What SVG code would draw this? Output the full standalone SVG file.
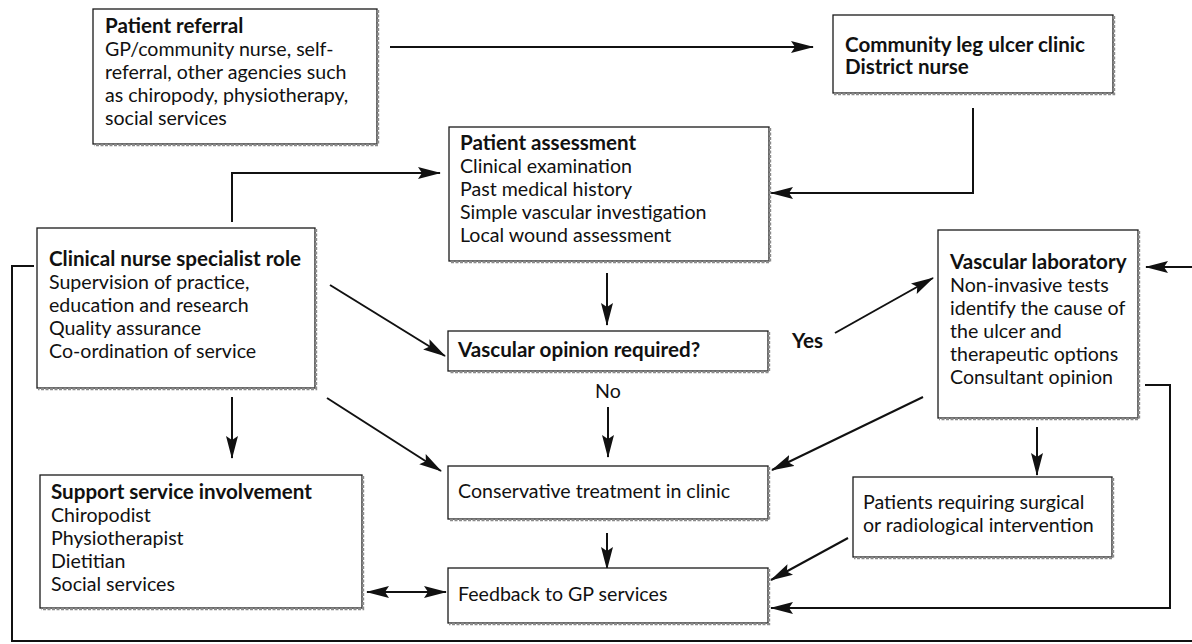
<svg xmlns="http://www.w3.org/2000/svg" width="1192" height="644" viewBox="0 0 1192 644">
  <style>
    .box { fill: #ffffff; stroke: #1a1a1a; stroke-width: 1.3; }
    .shadow { fill: none; stroke: #8a8a8a; stroke-width: 2.4; stroke-dasharray: 3 1.5; }
    .t { font-family: Lato, "Liberation Sans", sans-serif; font-size: 19.6px; fill: #111111; }
    .b { font-weight: bold; font-size: 20.6px; }
    .wire { fill: none; stroke: #111111; stroke-width: 2; }
    .arr { fill: none; stroke: #111111; stroke-width: 2; marker-end: url(#head); }
  </style>
  <defs>
    <marker id="head" markerUnits="userSpaceOnUse" markerWidth="26" markerHeight="14" refX="22" refY="6.5" orient="auto">
      <path d="M0,0.5 L23,6.5 L0,12.5 L4,6.5 z" fill="#111111"/>
    </marker>
    <marker id="tail" markerUnits="userSpaceOnUse" markerWidth="26" markerHeight="14" refX="22" refY="6.5" orient="auto-start-reverse">
      <path d="M0,0.5 L23,6.5 L0,12.5 L4,6.5 z" fill="#111111"/>
    </marker>
  </defs>

  <rect width="1192" height="644" fill="#ffffff"/>

  <!-- connectors -->
  <g id="connectors">
    <!-- referral to community clinic -->
    <path class="arr" d="M390,47 H813"/>
    <!-- community clinic down and back to assessment -->
    <path class="arr" d="M973,108 V193 H771"/>
    <!-- nurse specialist up to assessment -->
    <path class="arr" d="M232,222 V173 H440"/>
    <!-- outer feedback loop -->
    <path class="wire" d="M34,266 H12 V641 H1192"/>
    <path class="arr" d="M1192,267 H1146"/>
    <!-- assessment to vascular opinion -->
    <path class="arr" d="M607,273 V325"/>
    <!-- No branch -->
    <path class="arr" d="M608,407 V457"/>
    <!-- conservative to feedback -->
    <path class="arr" d="M607,533 V569"/>
    <!-- nurse specialist diagonals -->
    <path class="arr" d="M330,285 L445,356"/>
    <path class="arr" d="M327,398 L441,471"/>
    <!-- nurse specialist to support -->
    <path class="arr" d="M232,397 V458"/>
    <!-- support and feedback, both ways -->
    <path class="arr" d="M367,592 H446" marker-start="url(#tail)"/>
    <!-- Yes branch -->
    <path class="arr" d="M835,333 L933,278"/>
    <!-- vascular lab to conservative treatment -->
    <path class="arr" d="M923,397 L772,470"/>
    <!-- vascular lab to surgical patients -->
    <path class="arr" d="M1037,427 V475"/>
    <!-- surgical patients to feedback -->
    <path class="arr" d="M848,538 L771,580"/>
    <!-- vascular lab back to feedback -->
    <path class="arr" d="M1145,385 H1170 V608 H771"/>
  </g>

  <!-- Patient referral -->
  <g id="referral">
    <rect class="box" x="93" y="9" width="284" height="135"/>
    <path class="shadow" d="M378,10 V145 H94"/>
    <text class="t b" x="105" y="33">Patient referral</text>
    <text class="t" x="105" y="56">GP/community nurse, self-</text>
    <text class="t" x="105" y="79">referral, other agencies such</text>
    <text class="t" x="105" y="102">as chiropody, physiotherapy,</text>
    <text class="t" x="105" y="125">social services</text>
  </g>

  <!-- Community leg ulcer clinic -->
  <g id="community">
    <rect class="box" x="833" y="15" width="280" height="78"/>
    <path class="shadow" d="M1114,16 V94 H834"/>
    <text class="t b" x="845" y="52">Community leg ulcer clinic</text>
    <text class="t b" x="845" y="74">District nurse</text>
  </g>

  <!-- Patient assessment -->
  <g id="assessment">
    <rect class="box" x="449" y="127" width="320" height="134"/>
    <path class="shadow" d="M770,128 V262 H450"/>
    <text class="t b" x="460" y="150">Patient assessment</text>
    <text class="t" x="460" y="173">Clinical examination</text>
    <text class="t" x="460" y="196">Past medical history</text>
    <text class="t" x="460" y="219">Simple vascular investigation</text>
    <text class="t" x="460" y="242">Local wound assessment</text>
  </g>

  <!-- Clinical nurse specialist role -->
  <g id="specialist">
    <rect class="box" x="37" y="228" width="278" height="160"/>
    <path class="shadow" d="M316,229 V389 H38"/>
    <text class="t b" x="49" y="266">Clinical nurse specialist role</text>
    <text class="t" x="49" y="289">Supervision of practice,</text>
    <text class="t" x="49" y="312">education and research</text>
    <text class="t" x="49" y="335">Quality assurance</text>
    <text class="t" x="49" y="358">Co-ordination of service</text>
  </g>

  <!-- Vascular opinion required? -->
  <g id="opinion">
    <rect class="box" x="448" y="331" width="320" height="40"/>
    <path class="shadow" d="M769,332 V372 H449"/>
    <text class="t b" x="458" y="357">Vascular opinion required?</text>
  </g>

  <text class="t" x="608" y="398" text-anchor="middle">No</text>
  <text class="t b" x="792" y="348">Yes</text>

  <!-- Vascular laboratory -->
  <g id="vascular-lab">
    <rect class="box" x="938" y="230" width="200" height="188"/>
    <path class="shadow" d="M1139,231 V419 H939"/>
    <text class="t b" x="950" y="269">Vascular laboratory</text>
    <text class="t" x="950" y="292">Non-invasive tests</text>
    <text class="t" x="950" y="315">identify the cause of</text>
    <text class="t" x="950" y="338">the ulcer and</text>
    <text class="t" x="950" y="361">therapeutic options</text>
    <text class="t" x="950" y="384">Consultant opinion</text>
  </g>

  <!-- Conservative treatment -->
  <g id="conservative">
    <rect class="box" x="448" y="466" width="320" height="53"/>
    <path class="shadow" d="M769,467 V520 H449"/>
    <text class="t" x="458" y="498">Conservative treatment in clinic</text>
  </g>

  <!-- Support service involvement -->
  <g id="support">
    <rect class="box" x="40" y="475" width="322" height="133"/>
    <path class="shadow" d="M363,476 V609 H41"/>
    <text class="t b" x="51" y="499">Support service involvement</text>
    <text class="t" x="51" y="522">Chiropodist</text>
    <text class="t" x="51" y="545">Physiotherapist</text>
    <text class="t" x="51" y="568">Dietitian</text>
    <text class="t" x="51" y="591">Social services</text>
  </g>

  <!-- Patients requiring intervention -->
  <g id="intervention">
    <rect class="box" x="853" y="477" width="259" height="80"/>
    <path class="shadow" d="M1113,478 V558 H854"/>
    <text class="t" x="863" y="509">Patients requiring surgical</text>
    <text class="t" x="863" y="532">or radiological intervention</text>
  </g>

  <!-- Feedback to GP services -->
  <g id="feedback">
    <rect class="box" x="448" y="568" width="320" height="55"/>
    <path class="shadow" d="M769,569 V624 H449"/>
    <text class="t" x="458" y="601">Feedback to GP services</text>
  </g>
</svg>
